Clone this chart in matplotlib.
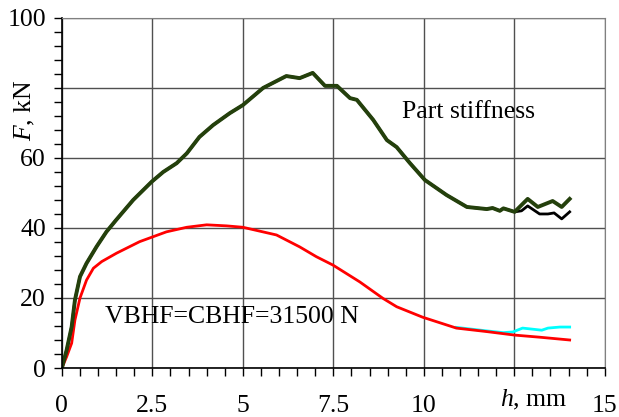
import matplotlib
matplotlib.use('Agg')
import matplotlib.pyplot as plt
import numpy as np

plt.rcParams['font.family'] = 'Liberation Serif'
plt.rcParams['mathtext.fontset'] = 'custom'
plt.rcParams['mathtext.rm'] = 'Liberation Serif'
plt.rcParams['mathtext.it'] = 'Liberation Serif:italic'

# part stiffness curve (green), shared with black up to 12.5 mm
green_h = [0, 0.13, 0.27, 0.36, 0.5, 0.68, 0.96, 1.23, 1.5, 1.97, 2.48, 2.8, 3.17, 3.45,
           3.8, 4.18, 4.64, 5.0, 5.56, 6.2, 6.57, 6.93, 7.27, 7.6, 7.96, 8.15, 8.6, 8.98,
           9.25, 9.61, 10.03, 10.63, 11.19, 11.74, 11.9, 12.1, 12.2, 12.51,
           12.87, 13.15, 13.56, 13.81, 14.03]
green_f = [0, 5.1, 11.8, 19.4, 26.1, 29.9, 34.7, 38.9, 42.3, 48, 53.2, 56, 58.5, 61.3,
           66, 69.4, 72.8, 75.1, 80, 83.4, 82.8, 84.3, 80.6, 80.6, 77.1, 76.6, 70.9, 65.1,
           63.1, 58.6, 53.7, 49.4, 46, 45.4, 45.7, 44.9, 45.6, 44.6,
           48.3, 46, 47.7, 46, 48.3]

black_h = green_h[:38] + [12.7, 12.87, 13.2, 13.43, 13.6, 13.81, 14.03]
black_f = green_f[:38] + [44.9, 46.3, 44, 44, 44.3, 42.6, 44.6]

# lower curve (red) and its variant (cyan)
red_h = [0, 0.13, 0.27, 0.36, 0.5, 0.68, 0.87, 1.1, 1.51, 2.15, 2.89, 3.45, 4.0, 4.55,
         5.0, 5.93, 6.57, 7.03, 7.49, 8.23, 8.87, 9.25, 9.97, 10.9, 11.74, 12.51, 13.2, 14.03]
red_f = [0, 3.2, 7.1, 13.7, 20, 25.1, 28.5, 30.4, 32.8, 36.1, 38.9, 40.2, 40.9, 40.6,
         40.2, 38, 34.6, 31.8, 29.4, 24.6, 19.9, 17.5, 14.5, 11.4, 10.4, 9.4, 8.8, 8.0]

cyan_h = [10.9, 11.74, 12.2, 12.46, 12.73, 13.26, 13.43, 13.76, 14.03]
cyan_f = [11.6, 10.6, 10.1, 10.3, 11.4, 10.8, 11.4, 11.7, 11.7]

fig = plt.figure(figsize=(6.19, 4.17), dpi=100)
ax = fig.add_axes([0.100, 0.1175, 0.877, 0.8395])

ax.plot(cyan_h, cyan_f, color='#00ffff', lw=2)
ax.plot(red_h, red_f, color='#ff0000', lw=2)
ax.plot(black_h, black_f, color='black', lw=2)
ax.plot(green_h, green_f, color='#24400c', lw=2.8)

ax.set_xlim(0, 15)
ax.set_ylim(0, 100)
ax.set_xticks([0, 2.5, 5, 7.5, 10, 12.5, 15])
ax.set_xticklabels(['0', '2.5', '5', '7.5', '10', '', '15'])
ax.set_xticks(np.arange(0, 15.01, 0.5), minor=True)
ax.set_yticks([0, 20, 40, 60, 80, 100])
ax.set_yticklabels(['0', '20', '40', '60', '', '100'])
ax.set_yticks(np.arange(0, 100.1, 4), minor=True)

ax.tick_params(axis='both', which='both', direction='out', length=5.5, width=1, labelsize=18.5)
ax.tick_params(axis='x', which='major', pad=14)
ax.tick_params(axis='y', which='major', pad=6)

ax.grid(True, which='major', color='#505050', lw=1)
for s in ['top', 'right']:
    ax.spines[s].set_color('#808080')
for s in ['left', 'bottom']:
    ax.spines[s].set_color('black')
    ax.spines[s].set_linewidth(1.2)

ax.set_ylabel(r'$\it{F}$, kN', fontsize=18.5)
ax.yaxis.set_label_coords(-0.045, 0.737)

ax.text(13.04, -9.1, r'$\it{h}$, mm', fontsize=18.5, ha='center', va='center', clip_on=False)
ax.text(9.39, 73.1, 'Part stiffness', fontsize=18.5, va='center', ha='left')
ax.text(1.2, 14.6, 'VBHF=CBHF=31500 N', fontsize=18.5, va='center', ha='left')

fig.savefig('out.png', dpi=100)
